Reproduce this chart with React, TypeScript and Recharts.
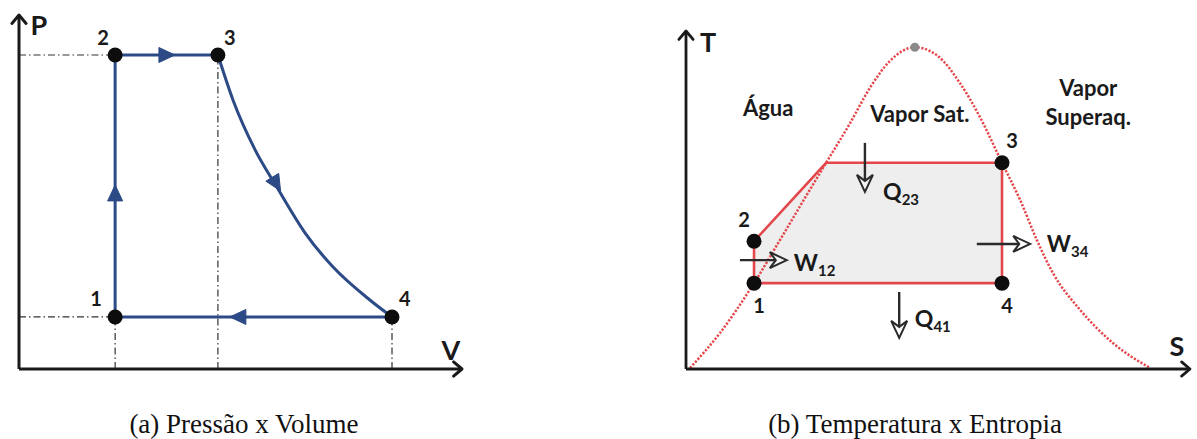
import { ComposedChart, Line, Area, Scatter, XAxis, YAxis, ReferenceLine } from "recharts";

// ---------- (a) P x V ----------
const pvStates = [
  { name: "1", x: 2.17, y: 1.47 },
  { name: "2", x: 2.17, y: 8.87 },
  { name: "3", x: 4.49, y: 8.87 },
  { name: "4", x: 8.42, y: 1.47 },
];
const pvIsochoricIsobaric = [
  { x: 2.17, y: 1.47 },
  { x: 2.17, y: 8.87 },
  { x: 4.49, y: 8.87 },
];
const pvExpansion = [
  { x: 4.49, y: 8.87 },
  { x: 4.83, y: 7.6 },
  { x: 5.33, y: 6.19 },
  { x: 5.82, y: 5.14 },
  { x: 6.46, y: 3.84 },
  { x: 7.09, y: 2.88 },
  { x: 7.92, y: 1.95 },
  { x: 8.42, y: 1.47 },
];
const pvReturn = [
  { x: 8.42, y: 1.47 },
  { x: 2.17, y: 1.47 },
];
const pvGuides = [
  [{ x: 0, y: 8.87 }, { x: 2.17, y: 8.87 }],
  [{ x: 0, y: 1.47 }, { x: 2.17, y: 1.47 }],
  [{ x: 2.17, y: 0 }, { x: 2.17, y: 1.47 }],
  [{ x: 4.49, y: 0 }, { x: 4.49, y: 8.87 }],
  [{ x: 8.42, y: 0 }, { x: 8.42, y: 1.47 }],
];
// tail -> tip of the flow arrowheads
const pvFlow = [
  [{ x: 2.17, y: 4.8 }, { x: 2.17, y: 5.2 }],
  [{ x: 3.2, y: 8.87 }, { x: 3.52, y: 8.87 }],
  [{ x: 5.74, y: 5.37 }, { x: 5.905, y: 5.03 }],
  [{ x: 5.08, y: 1.47 }, { x: 4.76, y: 1.47 }],
];
const pvNumLabels = [
  { x: 1.9, y: 9.38, text: "2" },
  { x: 4.76, y: 9.38, text: "3" },
  { x: 1.74, y: 2.0, text: "1" },
  { x: 8.71, y: 2.0, text: "4" },
];
const pvAxisLabels = [
  { x: 0.45, y: 9.72, text: "P" },
  { x: 9.75, y: 0.56, text: "V" },
];

// ---------- (b) T x S ----------
const tsDome = [
  { x: 0.08, y: 0.03 },
  { x: 0.67, y: 1.06 },
  { x: 1.35, y: 2.54 },
  { x: 1.87, y: 3.83 },
  { x: 2.32, y: 4.96 },
  { x: 2.78, y: 6.1 },
  { x: 3.25, y: 7.26 },
  { x: 3.65, y: 8.32 },
  { x: 4.05, y: 9.12 },
  { x: 4.54, y: 9.52 },
  { x: 4.98, y: 9.28 },
  { x: 5.44, y: 8.45 },
  { x: 5.83, y: 7.46 },
  { x: 6.27, y: 6.1 },
  { x: 6.63, y: 5.0 },
  { x: 6.96, y: 3.82 },
  { x: 7.28, y: 2.84 },
  { x: 7.82, y: 1.75 },
  { x: 8.47, y: 0.77 },
  { x: 9.21, y: 0.03 },
];
const tsCritical = [{ x: 4.54, y: 9.52 }];
const tsStates = [
  { name: "1", x: 1.35, y: 2.54 },
  { name: "2", x: 1.35, y: 3.78 },
  { name: "3", x: 6.27, y: 6.1 },
  { name: "4", x: 6.27, y: 2.54 },
];
const tsCycle = [
  { x: 1.35, y: 2.54 },
  { x: 1.35, y: 3.78 },
  { x: 2.78, y: 6.1 },
  { x: 6.27, y: 6.1 },
  { x: 6.27, y: 2.54 },
  { x: 1.35, y: 2.54 },
];
const tsCycleTop = [
  { x: 1.35, y: 3.78 },
  { x: 2.78, y: 6.1 },
  { x: 6.27, y: 6.1 },
];
const tsCycleBase = 2.54;
const tsFlow = [
  [{ x: 3.55, y: 6.69 }, { x: 3.55, y: 5.24 }],
  [{ x: 4.23, y: 2.28 }, { x: 4.23, y: 0.92 }],
  [{ x: 1.07, y: 3.22 }, { x: 2.0, y: 3.22 }],
  [{ x: 5.77, y: 3.7 }, { x: 6.83, y: 3.7 }],
];
const tsFlowLabels = [
  { x: 3.91, y: 5.27, text: "Q", sub: "23" },
  { x: 4.54, y: 1.51, text: "Q", sub: "41" },
  { x: 2.14, y: 3.16, text: "W", sub: "12" },
  { x: 7.16, y: 3.73, text: "W", sub: "34" },
];
const tsNumLabels = [
  { x: 6.47, y: 6.78, text: "3" },
  { x: 1.15, y: 4.44, text: "2" },
  { x: 1.45, y: 1.89, text: "1" },
  { x: 6.37, y: 1.89, text: "4" },
];
const tsRegionLabels = [
  { x: 1.63, y: 7.75, text: "Água" },
  { x: 4.64, y: 7.57, text: "Vapor Sat." },
  { x: 7.98, y: 8.34, text: "Vapor" },
  { x: 7.98, y: 7.46, text: "Superaq." },
];
const tsAxisLabels = [
  { x: 0.44, y: 9.7, text: "T" },
  { x: 9.74, y: 0.71, text: "S" },
];

const axisSegments = [
  [{ x: 0, y: 0 }, { x: 0, y: 10 }],
  [{ x: 0, y: 0 }, { x: 10, y: 0 }],
];

const BLUE = "#2b4a86";
const RED = "#e4474b";
const INK = "#1a1a1a";
const FONT = "Lato, 'Open Sans', sans-serif";

const axisArrow = (width: number) => (p: any) => {
  const { x1, y1, x2, y2 } = p;
  const a = Math.atan2(y2 - y1, x2 - x1);
  const L = 11;
  const w = 0.7;
  const ax = x2 - L * Math.cos(a - w);
  const ay = y2 - L * Math.sin(a - w);
  const bx = x2 - L * Math.cos(a + w);
  const by = y2 - L * Math.sin(a + w);
  return (
    <g>
      <line x1={x1} y1={y1} x2={x2} y2={y2} stroke={INK} strokeWidth={width} />
      <polyline
        points={`${ax},${ay} ${x2},${y2} ${bx},${by}`}
        fill="none"
        stroke={INK}
        strokeWidth={width}
        strokeLinecap="round"
        strokeLinejoin="round"
      />
    </g>
  );
};

// solid triangle head only (the path itself is drawn by the Line)
const flowHead = (p: any) => {
  const { x1, y1, x2, y2 } = p;
  const a = Math.atan2(y2 - y1, x2 - x1);
  const L = 16;
  const h = 7.5;
  const bx = x2 - L * Math.cos(a);
  const by = y2 - L * Math.sin(a);
  const nx = -Math.sin(a) * h;
  const ny = Math.cos(a) * h;
  return (
    <polygon
      points={`${x2},${y2} ${bx + nx},${by + ny} ${bx - nx},${by - ny}`}
      fill={BLUE}
      stroke={BLUE}
      strokeWidth={1}
    />
  );
};

// shaft plus hollow head
const hollowArrow = (p: any) => {
  const { x1, y1, x2, y2 } = p;
  const a = Math.atan2(y2 - y1, x2 - x1);
  const L = 17;
  const h = 8;
  const bx = x2 - L * Math.cos(a);
  const by = y2 - L * Math.sin(a);
  const nx = -Math.sin(a) * h;
  const ny = Math.cos(a) * h;
  const sx = x2 - (L - 6) * Math.cos(a);
  const sy = y2 - (L - 6) * Math.sin(a);
  return (
    <g>
      <line x1={x1} y1={y1} x2={sx} y2={sy} stroke="#2a2a2a" strokeWidth={2.4} />
      <polygon
        points={`${x2},${y2} ${bx + nx},${by + ny} ${sx},${sy} ${bx - nx},${by - ny}`}
        fill="#fff"
        fillOpacity={0.3}
        stroke="#2a2a2a"
        strokeWidth={2}
        strokeLinejoin="miter"
      />
    </g>
  );
};

const textShape = (size: number) => (p: any) => (
  <text
    x={p.cx}
    y={p.cy}
    textAnchor="middle"
    dominantBaseline="central"
    fontFamily={FONT}
    fontWeight={700}
    fontSize={size}
    fill={INK}
  >
    {p.payload.text}
  </text>
);

const subShape = (p: any) => (
  <text
    x={p.cx}
    y={p.cy}
    textAnchor="start"
    dominantBaseline="central"
    fontFamily={FONT}
    fontWeight={700}
    fontSize={23}
    fill={INK}
  >
    <tspan>{p.payload.text}</tspan>
    <tspan dy={8} fontSize={15}>
      {p.payload.sub}
    </tspan>
  </text>
);

const dotShape = (r: number, fill: string) => (p: any) => (
  <circle cx={p.cx} cy={p.cy} r={r} fill={fill} />
);

function PVChart() {
  return (
    <ComposedChart width={480} height={390} margin={{ top: 15, right: 18, bottom: 21, left: 19 }}>
      <XAxis type="number" dataKey="x" domain={[0, 10]} hide allowDataOverflow />
      <YAxis type="number" dataKey="y" domain={[0, 10]} hide allowDataOverflow />
      {pvGuides.map((seg, i) => (
        <ReferenceLine
          key={`g${i}`}
          segment={seg}
          stroke="#333"
          strokeWidth={1.2}
          strokeDasharray="7 3 1.5 3"
        />
      ))}
      {axisSegments.map((seg, i) => (
        <ReferenceLine key={`a${i}`} segment={seg} shape={axisArrow(3)} />
      ))}
      <Line data={pvIsochoricIsobaric} dataKey="y" type="linear" stroke={BLUE} strokeWidth={3} dot={false} isAnimationActive={false} />
      <Line data={pvExpansion} dataKey="y" type="monotone" stroke={BLUE} strokeWidth={3} dot={false} isAnimationActive={false} />
      <Line data={pvReturn} dataKey="y" type="linear" stroke={BLUE} strokeWidth={3} dot={false} isAnimationActive={false} />
      {pvFlow.map((seg, i) => (
        <ReferenceLine key={`f${i}`} segment={seg} shape={flowHead} />
      ))}
      <Scatter data={pvStates} dataKey="y" shape={dotShape(7.5, "#0d0d0d")} isAnimationActive={false} />
      <Scatter data={pvNumLabels} dataKey="y" shape={textShape(20)} isAnimationActive={false} />
      <Scatter data={pvAxisLabels} dataKey="y" shape={textShape(27)} isAnimationActive={false} />
    </ComposedChart>
  );
}

function TSChart() {
  return (
    <ComposedChart width={557} height={390} margin={{ top: 31, right: 7, bottom: 21, left: 46 }}>
      <XAxis type="number" dataKey="x" domain={[0, 10]} hide allowDataOverflow />
      <YAxis type="number" dataKey="y" domain={[0, 10]} hide allowDataOverflow />
      <Line data={tsDome} dataKey="y" type="monotone" stroke={RED} strokeWidth={2.5} strokeDasharray="2.2 1.6" dot={false} isAnimationActive={false} />
      <Area
        data={tsCycleTop}
        dataKey="y"
        type="linear"
        baseValue={tsCycleBase}
        stroke="none"
        fill="#ebebeb"
        fillOpacity={0.85}
        isAnimationActive={false}
      />
      <Line data={tsCycle} dataKey="y" type="linear" stroke={RED} strokeWidth={2.6} dot={false} isAnimationActive={false} />
      {axisSegments.map((seg, i) => (
        <ReferenceLine key={`a${i}`} segment={seg} shape={axisArrow(2.8)} />
      ))}
      {tsFlow.map((seg, i) => (
        <ReferenceLine key={`f${i}`} segment={seg} shape={hollowArrow} />
      ))}
      <Scatter data={tsCritical} dataKey="y" shape={dotShape(4.5, "#8a8a8a")} isAnimationActive={false} />
      <Scatter data={tsStates} dataKey="y" shape={dotShape(7.5, "#0d0d0d")} isAnimationActive={false} />
      <Scatter data={tsNumLabels} dataKey="y" shape={textShape(20)} isAnimationActive={false} />
      <Scatter data={tsRegionLabels} dataKey="y" shape={textShape(22)} isAnimationActive={false} />
      <Scatter data={tsFlowLabels} dataKey="y" shape={subShape} isAnimationActive={false} />
      <Scatter data={tsAxisLabels} dataKey="y" shape={textShape(27)} isAnimationActive={false} />
    </ComposedChart>
  );
}

const captionStyle: React.CSSProperties = {
  position: "absolute",
  top: 411,
  width: 400,
  textAlign: "center",
  fontFamily: "'Liberation Serif', 'Times New Roman', serif",
  fontSize: 27,
  lineHeight: "27px",
  color: "#111",
  whiteSpace: "nowrap",
};

export default function App() {
  return (
    <div style={{ position: "absolute", left: 0, top: 0, width: 1197, height: 439, background: "#fff", overflow: "hidden" }}>
      <div style={{ position: "absolute", left: 0, top: 0 }}>
        <PVChart />
      </div>
      <div style={{ position: "absolute", left: 640, top: 0 }}>
        <TSChart />
      </div>
      <div style={{ ...captionStyle, left: 244 - 200 }}>(a) Pressão x Volume</div>
      <div style={{ ...captionStyle, left: 915 - 200 }}>(b) Temperatura x Entropia</div>
    </div>
  );
}
